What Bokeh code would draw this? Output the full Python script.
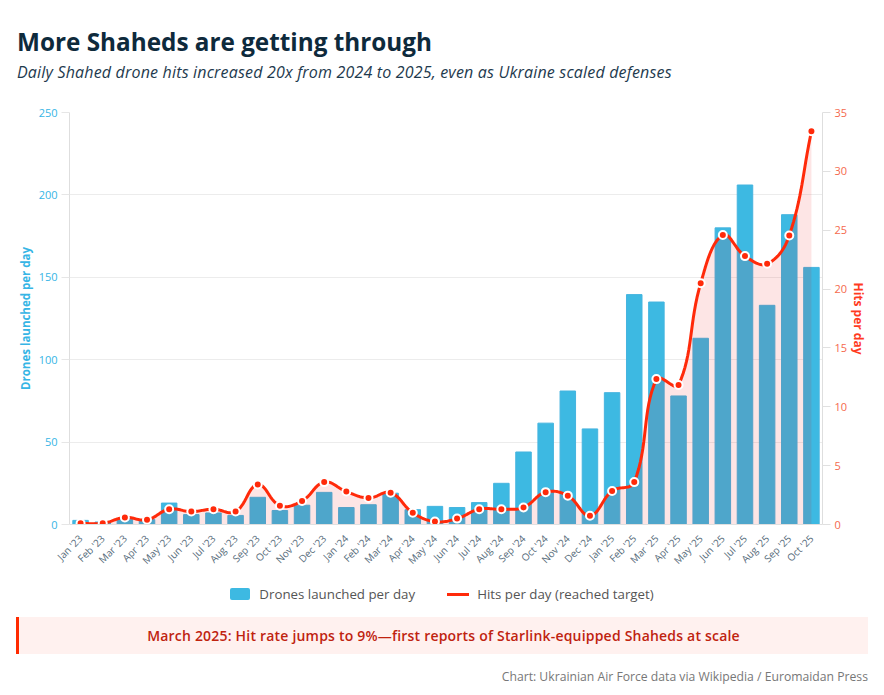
import math
from bokeh.plotting import figure
from bokeh.models import Range1d, LinearAxis, FixedTicker, Div, ColumnDataSource
from bokeh.layouts import column
from bokeh.embed import file_html
from bokeh.resources import INLINE

months = ["Jan '23", "Feb '23", "Mar '23", "Apr '23", "May '23", "Jun '23", "Jul '23",
          "Aug '23", "Sep '23", "Oct '23", "Nov '23", "Dec '23", "Jan '24", "Feb '24",
          "Mar '24", "Apr '24", "May '24", "Jun '24", "Jul '24", "Aug '24", "Sep '24",
          "Oct '24", "Nov '24", "Dec '24", "Jan '25", "Feb '25", "Mar '25", "Apr '25",
          "May '25", "Jun '25", "Jul '25", "Aug '25", "Sep '25", "Oct '25"]
drones = [2.5, 1.5, 3, 3, 13, 6, 7, 5.5, 16.5, 8.5, 11.7, 19.5, 10.3, 12, 19, 9, 11,
          10.3, 13.3, 25, 44, 61.5, 81, 58, 80, 139.5, 135, 78, 113, 180, 206, 133, 188, 156]
hits = [0.1, 0.1, 0.6, 0.4, 1.3, 1.1, 1.3, 1.1, 3.4, 1.6, 2.0, 3.6, 2.8, 2.25, 2.7, 1.0,
        0.25, 0.5, 1.3, 1.3, 1.45, 2.75, 2.45, 0.75, 2.85, 3.6, 12.35, 11.85, 20.5, 24.6,
        22.8, 22.15, 24.55, 33.4]
left_ticks = [0, 50, 100, 150, 200, 250]
right_ticks = [0, 5, 10, 15, 20, 25, 30, 35]
legend_labels = ["Drones launched per day", "Hits per day (reached target)"]

TITLE = "More Shaheds are getting through"
SUBTITLE = "Daily Shahed drone hits increased 20x from 2024 to 2025, even as Ukraine scaled defenses"
NOTE = "March 2025: Hit rate jumps to 9%\u2014first reports of Starlink-equipped Shaheds at scale"
SOURCE = "Chart: Ukrainian Air Force data via Wikipedia / Euromaidan Press"

BLUE = "#3db9e2"
RED = "#ff2a0a"
FONT = "Open Sans"

xs = list(range(len(months)))


def smooth(xv, yv, t=0.4, sx=22.15, sy=11.78, ymin=0.0, ymax=35.0, steps=16):
    P = [(a * sx, b * sy) for a, b in zip(xv, yv)]
    n = len(P)
    cps = []
    for i in range(n):
        prev = P[i - 1] if i > 0 else P[i]
        cur = P[i]
        nxt = P[i + 1] if i < n - 1 else P[i]
        d01 = math.hypot(cur[0] - prev[0], cur[1] - prev[1])
        d12 = math.hypot(nxt[0] - cur[0], nxt[1] - cur[1])
        tot = d01 + d12
        s01 = d01 / tot if tot else 0
        s12 = d12 / tot if tot else 0
        fa, fb = t * s01, t * s12
        c1 = [cur[0] - fa * (nxt[0] - prev[0]), cur[1] - fa * (nxt[1] - prev[1])]
        c2 = [cur[0] + fb * (nxt[0] - prev[0]), cur[1] + fb * (nxt[1] - prev[1])]
        for c in (c1, c2):
            c[1] = min(max(c[1], ymin * sy), ymax * sy)
        cps.append((c1, c2))
    ox, oy = [], []
    for i in range(n - 1):
        p0, p3 = P[i], P[i + 1]
        c1, c2 = cps[i][1], cps[i + 1][0]
        for k in range(steps + (1 if i == n - 2 else 0)):
            u = k / steps
            a = (1 - u) ** 3
            b = 3 * (1 - u) ** 2 * u
            c = 3 * (1 - u) * u ** 2
            d = u ** 3
            ox.append((a * p0[0] + b * c1[0] + c * c2[0] + d * p3[0]) / sx)
            oy.append((a * p0[1] + b * c1[1] + c * c2[1] + d * p3[1]) / sy)
    return ox, oy


cx, cy = smooth(xs, hits)

p = figure(width=876, height=475, x_range=Range1d(-0.5, 33.5), y_range=Range1d(0, 250),
           output_backend="svg", toolbar_location=None,
           min_border_left=69, min_border_right=54, min_border_top=12, min_border_bottom=51)
p.margin = (0, 0, 0, 0)
p.extra_y_ranges = {"hits": Range1d(0, 35)}
p.outline_line_color = None
p.background_fill_color = "white"
p.border_fill_color = "white"
p.xgrid.visible = False
p.ygrid.grid_line_color = "#ececec"
p.ygrid.ticker = FixedTicker(ticks=left_ticks)

bar_src = ColumnDataSource(dict(x=xs, top=drones))
p.vbar(x="x", top="top", width=0.7, source=bar_src, fill_color=BLUE,
       line_color="#45b4df", line_width=1)

area_src = ColumnDataSource(dict(x=cx, y1=[0] * len(cx), y2=cy))
p.varea(x="x", y1="y1", y2="y2", source=area_src, fill_color="#ea0000", fill_alpha=0.1,
        y_range_name="hits")
line_src = ColumnDataSource(dict(x=cx, y=cy))
p.line(x="x", y="y", source=line_src, line_color=RED, line_width=3, y_range_name="hits")
pt_src = ColumnDataSource(dict(x=xs, y=hits))
p.scatter(x="x", y="y", source=pt_src, size=8, fill_color=RED, line_color="white",
          line_width=2, y_range_name="hits")

# x axis
xa = p.xaxis[0]
xa.ticker = FixedTicker(ticks=xs)
xa.major_label_overrides = {i: m for i, m in zip(xs, months)}
xa.major_label_orientation = math.pi / 4
xa.major_label_text_font = FONT
xa.major_label_text_font_size = "10px"
xa.major_label_text_color = "#566b7a"
xa.major_tick_line_color = None
xa.minor_tick_line_color = None
xa.axis_line_color = "#e0e0e0"
xa.major_label_standoff = 6

# left axis
ya = p.yaxis[0]
ya.ticker = FixedTicker(ticks=left_ticks)
ya.axis_label = "Drones launched per day"
ya.axis_label_text_font = FONT
ya.axis_label_text_font_style = "bold"
ya.axis_label_text_font_size = "11.5px"
ya.axis_label_text_color = "#36b5e5"
ya.axis_label_standoff = 3
ya.major_label_text_font = FONT
ya.major_label_text_font_size = "11px"
ya.major_label_text_color = "#36b5e5"
ya.major_tick_out = 8
ya.major_tick_in = 0
ya.major_tick_line_color = "#e6e6e6"
ya.minor_tick_line_color = None
ya.axis_line_color = "#dedede"
ya.major_label_standoff = 4

ra = LinearAxis(y_range_name="hits", ticker=FixedTicker(ticks=right_ticks))
ra.axis_label = "Hits per day"
ra.axis_label_text_font = FONT
ra.axis_label_text_font_style = "bold"
ra.axis_label_text_font_size = "12px"
ra.axis_label_text_color = "#ff3b1f"
ra.axis_label_standoff = 0
ra.major_label_text_font = FONT
ra.major_label_text_font_size = "11px"
ra.major_label_text_color = "#f5694d"
ra.major_tick_out = 8
ra.major_tick_in = 0
ra.major_tick_line_color = "#e0e0e0"
ra.minor_tick_line_color = None
ra.axis_line_color = "#dedede"
ra.major_label_standoff = 4
p.add_layout(ra, "right")

header = Div(width=876, height=100, margin=(0, 0, 0, 0), text=(
    f'<div style="padding-left:17px;font-family:\'{FONT}\';">'
    f'<div style="padding-top:27px;font-size:24.3px;line-height:30px;font-weight:700;color:#0e2a3c;white-space:nowrap;">{TITLE}</div>'
    f'<div style="margin-top:5px;font-size:16px;line-height:20px;letter-spacing:0.18px;font-style:italic;color:#1e3a4e;white-space:nowrap;">{SUBTITLE}</div>'
    '</div>'))

legend = Div(width=884, height=35, margin=(0, 0, 0, 0), text=(
    f'<div style="width:884px;padding-top:12px;display:flex;justify-content:center;align-items:center;'
    f'font-family:\'{FONT}\';font-size:13.3px;color:#555555;line-height:14px;">'
    f'<span style="display:inline-block;width:20px;height:12px;background:{BLUE};border-radius:2px;margin-right:9px;"></span>'
    f'<span>{legend_labels[0]}</span>'
    f'<span style="display:inline-block;width:22px;height:3px;background:{RED};margin-left:32px;margin-right:8px;"></span>'
    f'<span>{legend_labels[1]}</span>'
    '</div>'))

note = Div(width=876, height=44, margin=(0, 0, 0, 0), text=(
    f'<div style="margin-top:7px;margin-left:16px;width:852px;height:37px;box-sizing:border-box;background:#fff1ef;'
    f'border-left:3px solid #ff2a00;text-align:center;line-height:37px;font-family:\'{FONT}\';'
    f'font-size:14px;letter-spacing:0.2px;font-weight:600;color:#c0230f;white-space:nowrap;">{NOTE}</div>'))

source = Div(width=876, height=30, margin=(0, 0, 0, 0), text=(
    f'<div style="padding-top:15px;width:868px;text-align:right;line-height:16px;'
    f'font-family:\'{FONT}\';font-size:12.2px;color:#777777;white-space:nowrap;">{SOURCE}</div>'))

layout = column(header, p, legend, note, source, spacing=0)

open("out.html", "w").write(file_html(layout, INLINE))
